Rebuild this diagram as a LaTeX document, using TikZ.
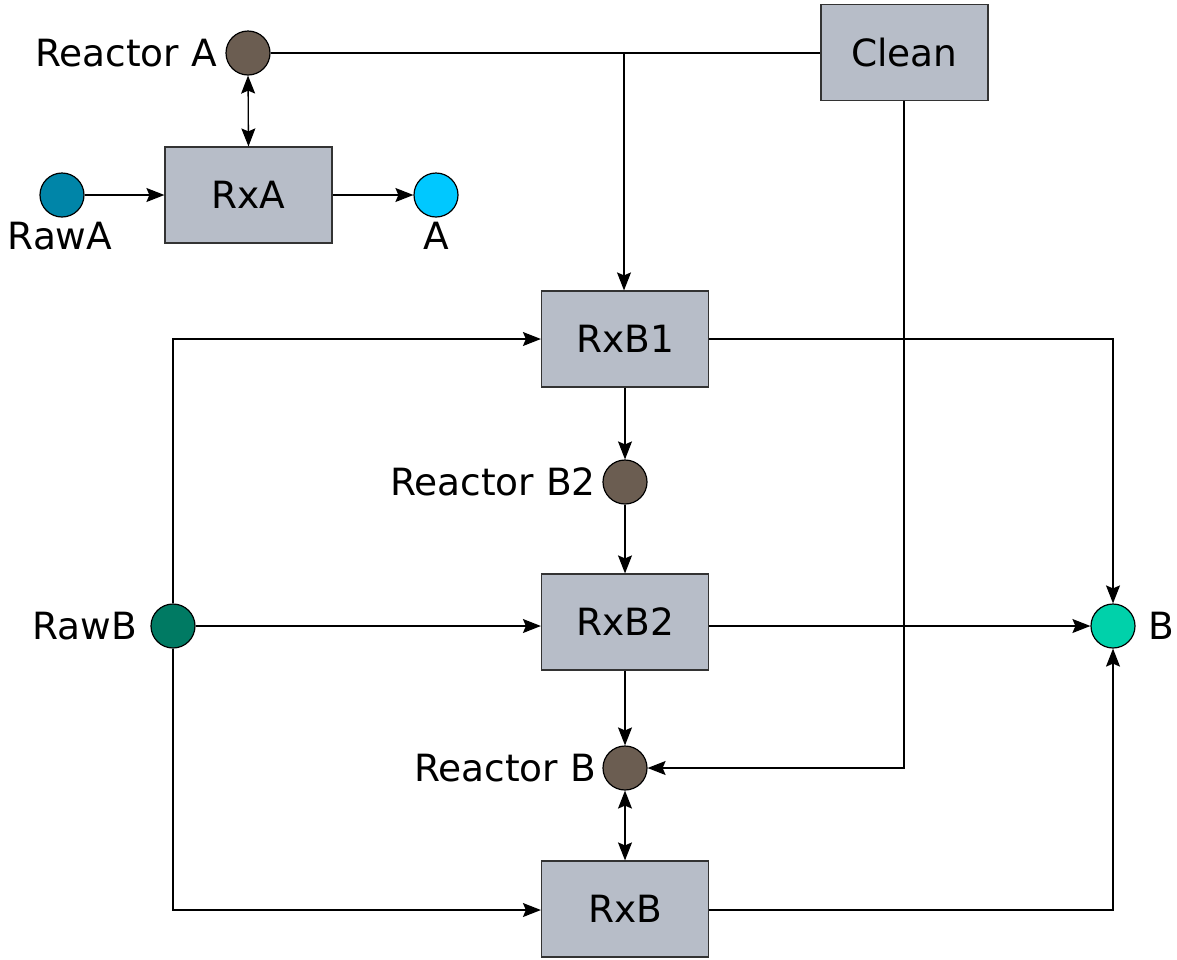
\documentclass[tikz,border=0pt]{standalone}
\usepackage{fontspec}
\setmainfont{DejaVu Sans}
\usetikzlibrary{arrows.meta}
\definecolor{boxfill}{HTML}{B7BDC8}
\definecolor{reactor}{HTML}{6B5D51}
\definecolor{rawa}{HTML}{0085A8}
\definecolor{prodA}{HTML}{00C8FF}
\definecolor{rawb}{HTML}{007A63}
\definecolor{prodB}{HTML}{00D1AA}
\tikzset{
  unit/.style={draw=black!80, fill=boxfill, line width=1.2pt, minimum width=167pt, minimum height=96pt, inner sep=0pt},
  stream/.style={circle, draw=black, line width=1.2pt, minimum size=44pt, inner sep=0pt},
  lbl/.style={inner sep=0pt},
  flow/.style={line width=1.3pt, -{Stealth[length=18pt,width=14pt,inset=3pt]}},
  flowboth/.style={line width=1.3pt, {Stealth[length=18pt,width=14pt,inset=3pt]}-{Stealth[length=18pt,width=14pt,inset=3pt]}},
  plain/.style={line width=1.3pt}
}
\begin{document}
\begin{tikzpicture}[x=1pt,y=-1pt,font=\fontsize{37.5}{42}\selectfont]
\useasboundingbox (0,0) rectangle (1177,959);
% units
\node[unit] (clean) at (904.5,52.5) {Clean};
\node[unit] (rxa) at (248.5,195) {RxA};
\node[unit] (rxb1) at (625,339) {RxB1};
\node[unit] (rxb2) at (625,622) {RxB2};
\node[unit] (rxb) at (625,909) {RxB};
% streams
\node[stream, fill=reactor] (reacA) at (248,53) {};
\node[stream, fill=rawa] (rawA) at (62,195) {};
\node[stream, fill=prodA] (A) at (436,195) {};
\node[stream, fill=reactor] (reacB2) at (625,482) {};
\node[stream, fill=reactor] (reacB) at (625,768) {};
\node[stream, fill=rawb] (rawB) at (173,626) {};
\node[stream, fill=prodB] (B) at (1113,626) {};
% labels
\node[lbl, anchor=east] (lreacA) at (217,53) {Reactor A};
\node[lbl, anchor=north] (lrawA) at (60,222) {RawA};
\node[lbl, anchor=north] (lA) at (436,222) {A};
\node[lbl, anchor=east] (lreacB2) at (596,482) {Reactor B2};
\node[lbl, anchor=east] (lreacB) at (596,768) {Reactor B};
\node[lbl, anchor=east] (lrawB) at (137,626) {RawB};
\node[lbl, anchor=west] (lB) at (1148,626) {B};
% coordinates
\coordinate (j1) at (624,53);
\coordinate (c1) at (904,768);
\coordinate (rb1) at (173,339);
\coordinate (rb3) at (173,910);
\coordinate (b1) at (1113,339);
\coordinate (b3) at (1113,910);
% connectors
\draw[plain] (reacA.east) -- (clean.west |- reacA.east);
\draw[flow] (j1) -- (j1 |- rxb1.north);
\draw[flow] (clean.south -| c1) -- (c1) -- (reacB.east);
\draw[flowboth] (reacA.south) -- (rxa.north);
\draw[flow] (rawA.east) -- (rxa.west);
\draw[flow] (rxa.east) -- (A.west);
\draw[flow] (rawB.north) -- (rb1) -- (rxb1.west |- rb1);
\draw[flow] (rawB.east) -- (rxb2.west |- rawB.east);
\draw[flow] (rawB.south) -- (rb3) -- (rxb.west |- rb3);
\draw[flow] (rxb1.east |- b1) -- (b1) -- (B.north);
\draw[flow] (rxb2.east |- B.west) -- (B.west);
\draw[flow] (rxb.east |- b3) -- (b3) -- (B.south);
\draw[flow] (rxb1.south) -- (reacB2.north);
\draw[flow] (reacB2.south) -- (rxb2.north);
\draw[flow] (rxb2.south) -- (reacB.north);
\draw[flowboth] (reacB.south) -- (rxb.north);
\end{tikzpicture}
\end{document}
